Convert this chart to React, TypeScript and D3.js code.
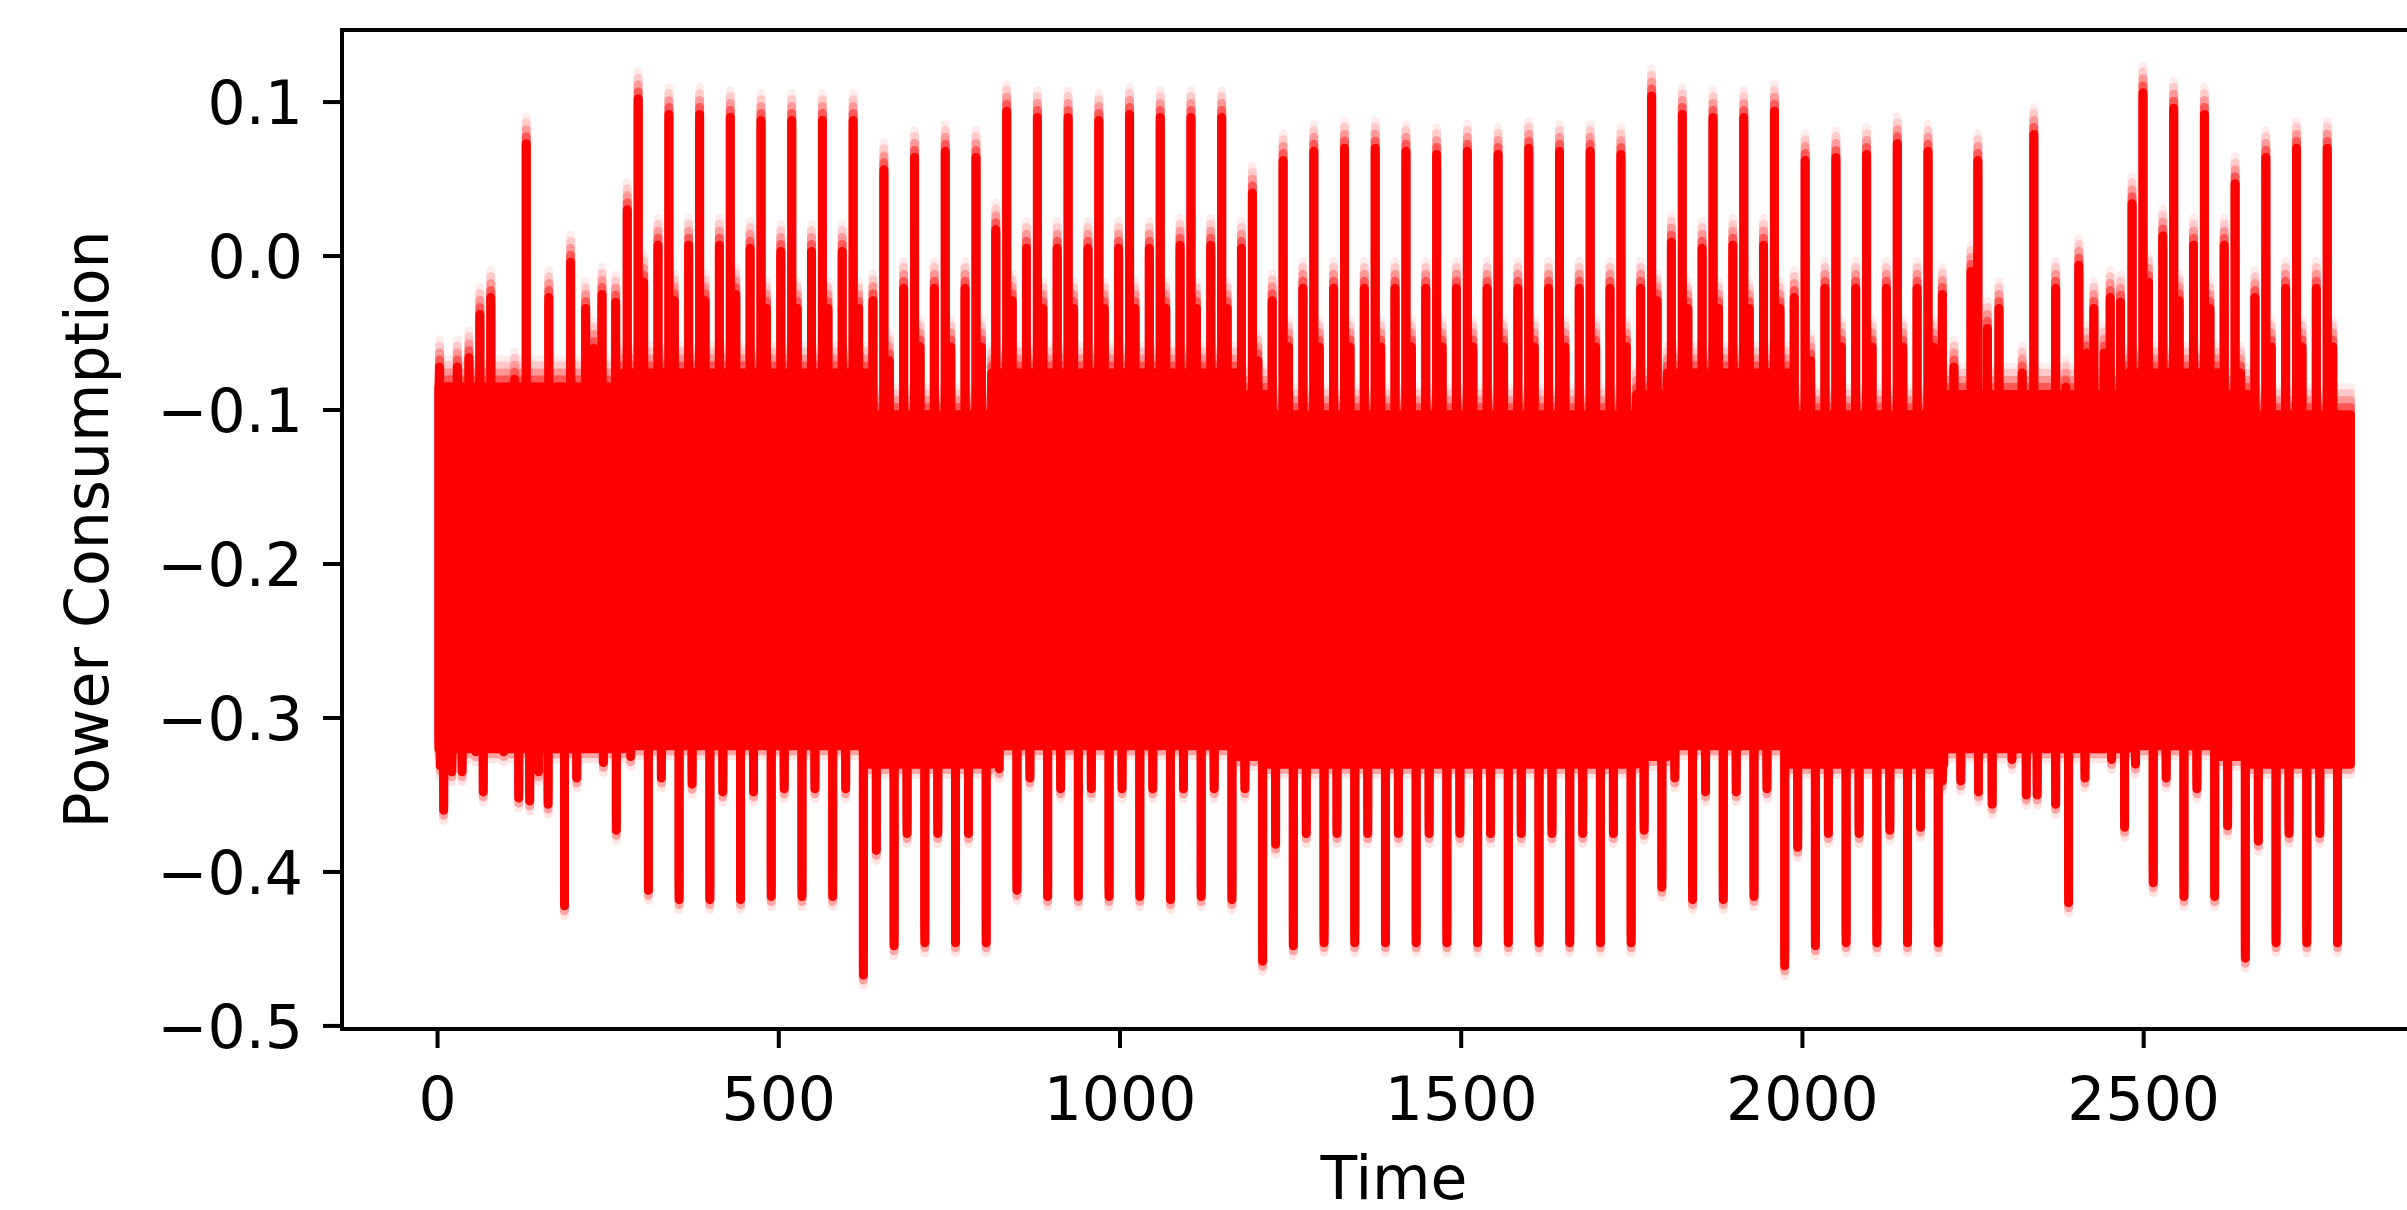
import React from "react";
import * as d3 from "d3";

// figure size and axes box (matplotlib-like layout)
const WIDTH = 2407;
const HEIGHT = 1210;
const plot = { left: 342, top: 30, right: 2446, bottom: 1029 };

const xLimits = [-140, 2943];
const yLimits = [-0.502, 0.1468];
const xTicks = [0, 500, 1000, 1500, 2000, 2500];
const yTicks = [-0.5, -0.4, -0.3, -0.2, -0.1, 0.0, 0.1];

// daily cycle: tall peak of day k sits at firstPeakTime + k * dayLength
const dayLength = 45;
const firstPeakTime = 24;
const firstDay = 6;
const timeEnd = 2803;
const spikeBase = -0.2;
// where the other daily features sit relative to the tall peak (time steps)
const secondOffset = -16;
const secondLowOffset = -11;
const bumpOffset = 8;
const lowOffset = 15;

// days 6..61 (null = irregular day, see extra spikes)
const dayHigh = [
  0.102, 0.092, 0.092, 0.09, 0.088, 0.088, 0.088, 0.088,
  0.056, 0.064, 0.068, 0.064,
  0.094, 0.09, 0.09, 0.088, 0.092, 0.09, 0.09, 0.09,
  0.041, 0.062, 0.068, 0.07, 0.07, 0.068, 0.066, 0.068, 0.066, 0.07, 0.068, 0.068, 0.066,
  0.104, 0.092, 0.09, 0.09, 0.094,
  0.062, 0.064, 0.066, 0.073, 0.068,
  null, null, null, null, null, null,
  0.106, 0.096, 0.092, 0.047, 0.064, 0.07, 0.07,
];
const daySecond = [
  0.03, 0.007, 0.007, 0.007, 0.005, 0.003, 0.003, 0.003,
  -0.029, -0.021, -0.021, -0.021,
  0.017, 0.005, 0.005, 0.005, 0.005, 0.005, 0.007, 0.007,
  0.005, -0.029, -0.021, -0.021, -0.021, -0.021, -0.021, -0.021, -0.021, -0.021, -0.021, -0.021, -0.021,
  -0.021, 0.009, 0.005, 0.007, 0.007,
  -0.027, -0.021, -0.021, -0.021, -0.021,
  null, null, null, null, null, null,
  0.034, 0.013, 0.007, 0.007, -0.027, -0.021, -0.021,
];
const dayBump = [
  -0.017, -0.029, -0.029, -0.025, -0.034, -0.034, -0.034, -0.034,
  -0.068, -0.059, -0.059, -0.059,
  -0.029, -0.034, -0.034, -0.034, -0.034, -0.034, -0.034, -0.034,
  -0.068, -0.059, -0.059, -0.059, -0.059, -0.059, -0.059, -0.059, -0.059, -0.059, -0.059, -0.059, -0.059,
  -0.029, -0.034, -0.034, -0.034, -0.034,
  -0.068, -0.059, -0.059, -0.059, -0.059,
  null, null, null, null, null, null,
  -0.017, -0.029, -0.034, -0.076, -0.059, -0.059, -0.059,
];
const dayLow = [
  -0.412, -0.418, -0.418, -0.418, -0.416, -0.416, -0.416, -0.467,
  -0.448, -0.446, -0.446, -0.446,
  -0.412, -0.416, -0.416, -0.416, -0.416, -0.418, -0.416, -0.418,
  -0.458, -0.448, -0.446, -0.446, -0.446, -0.446, -0.446, -0.446, -0.446, -0.446, -0.446, -0.446, -0.446,
  -0.41, -0.418, -0.418, -0.416, -0.461,
  -0.448, -0.446, -0.446, -0.446, -0.446,
  null, null, null, null, null, null,
  -0.407, -0.416, -0.416, -0.456, -0.446, -0.446, -0.446,
];
const dayLow2 = [
  -0.325, -0.339, -0.343, -0.348, -0.348, -0.346, -0.346, -0.346,
  -0.386, -0.375, -0.375, -0.375,
  -0.333, -0.339, -0.346, -0.346, -0.346, -0.346, -0.346, -0.346,
  -0.346, -0.382, -0.375, -0.375, -0.375, -0.375, -0.375, -0.375, -0.375, -0.375, -0.375, -0.375, -0.375,
  -0.373, -0.339, -0.348, -0.348, -0.346,
  -0.384, -0.375, -0.375, -0.373, -0.371,
  null, null, null, null, null, null,
  -0.33, -0.339, -0.346, -0.37, -0.38, -0.375, -0.375,
];

// dense band of the signal, one value per day (days 0..61)
const bandTop = [
  -0.085, -0.085, -0.085, -0.085, -0.085, -0.085,
  -0.076, -0.076, -0.076, -0.076, -0.076, -0.076, -0.076, -0.076,
  -0.103, -0.103, -0.103, -0.103,
  -0.076, -0.076, -0.076, -0.076, -0.076, -0.076, -0.076, -0.076,
  -0.09,
  -0.103, -0.103, -0.103, -0.103, -0.103, -0.103, -0.103, -0.103, -0.103, -0.103, -0.103, -0.103,
  -0.09,
  -0.076, -0.076, -0.076, -0.076,
  -0.103, -0.103, -0.103, -0.103, -0.103,
  -0.09, -0.09, -0.09, -0.09, -0.09, -0.09,
  -0.076, -0.076, -0.076,
  -0.09,
  -0.103, -0.103, -0.103,
];
const bandBottom = [
  -0.32, -0.32, -0.32, -0.32, -0.32, -0.32,
  -0.318, -0.318, -0.318, -0.318, -0.318, -0.318, -0.318, -0.318,
  -0.33, -0.33, -0.33, -0.33,
  -0.318, -0.318, -0.318, -0.318, -0.318, -0.318, -0.318, -0.318,
  -0.325,
  -0.33, -0.33, -0.33, -0.33, -0.33, -0.33, -0.33, -0.33, -0.33, -0.33, -0.33, -0.33,
  -0.325,
  -0.318, -0.318, -0.318, -0.318,
  -0.33, -0.33, -0.33, -0.33, -0.33,
  -0.32, -0.32, -0.32, -0.32, -0.32, -0.32,
  -0.318, -0.318, -0.318,
  -0.325,
  -0.33, -0.33, -0.33,
];

// irregular stretches (start of the record and days 49..54)
const extraHighT = [
  3, 17, 29, 46, 62, 78, 95, 113, 130, 146, 163, 178, 195, 217, 229, 241, 261,
  2205, 2222, 2247, 2257, 2271, 2288, 2300, 2322, 2339, 2356, 2371, 2386, 2405, 2417, 2427, 2442, 2451, 2466,
];
const extraHighV = [
  -0.072, -0.085, -0.072, -0.066, -0.038, -0.027, -0.091, -0.08, 0.073, -0.11, -0.027, -0.085, -0.004, -0.034, -0.06, -0.025, -0.03,
  -0.025, -0.072, -0.01, 0.062, -0.047, -0.034, -0.093, -0.076, 0.079, -0.1, -0.021, -0.085, -0.006, -0.063, -0.034, -0.063, -0.027, -0.03,
];
const extraLowT = [
  4, 9, 21, 36, 56, 67, 80, 97, 119, 135, 148, 162, 186, 204, 224, 243, 262,
  2205, 2232, 2258, 2278, 2290, 2307, 2328, 2344, 2371, 2390, 2414, 2435, 2453, 2472,
];
const extraLowV = [
  -0.331, -0.36, -0.335, -0.335, -0.322, -0.348, -0.31, -0.322, -0.352, -0.354, -0.335, -0.356, -0.422, -0.339, -0.318, -0.329, -0.373,
  -0.341, -0.341, -0.348, -0.356, -0.314, -0.327, -0.35, -0.35, -0.356, -0.42, -0.339, -0.314, -0.327, -0.371,
];

// overlapping translucent copies give the faded tips
const layers = [
  { dy: -27, a: 0.07 },
  { dy: -21, a: 0.14 },
  { dy: -14, a: 0.25 },
  { dy: -7, a: 0.42 },
  { dy: 10, a: 0.1 },
  { dy: 5, a: 0.28 },
  { dy: 0, a: 1 },
];

const RED = "#ff0000";
const FONT = "DejaVu Sans";

const App = () => {
  const x = d3.scaleLinear().domain(xLimits).range([plot.left, plot.right]);
  const y = d3.scaleLinear().domain(yLimits).range([plot.bottom, plot.top]);

  // band envelope
  const bandPts = bandTop.map((top, k) => ({
    t: Math.max(0, firstPeakTime + k * dayLength - 22),
    top,
    bottom: bandBottom[k],
  }));
  bandPts.push({ t: timeEnd, top: bandTop[bandTop.length - 1], bottom: bandBottom[bandBottom.length - 1] });
  const area = d3
    .area<{ t: number; top: number; bottom: number }>()
    .x((d) => x(d.t))
    .y0((d) => y(d.bottom))
    .y1((d) => y(d.top))
    .curve(d3.curveStepAfter);
  const bandPath = area(bandPts) || "";

  // spikes
  const spikes: [number, number][] = [];
  dayHigh.forEach((h, i) => {
    if (h == null) return;
    const tp = firstPeakTime + (firstDay + i) * dayLength;
    spikes.push([tp + secondOffset, daySecond[i] as number]);
    spikes.push([tp + secondLowOffset, dayLow2[i] as number]);
    spikes.push([tp, h]);
    spikes.push([tp + bumpOffset, dayBump[i] as number]);
    spikes.push([tp + lowOffset, dayLow[i] as number]);
  });
  extraHighT.forEach((t, i) => spikes.push([t, extraHighV[i]]));
  extraLowT.forEach((t, i) => spikes.push([t, extraLowV[i]]));

  const line = d3
    .line<[number, number]>()
    .x((d) => x(d[0]))
    .y((d) => y(d[1]));
  const spikePath = spikes.map(([t, v]) => line([[t, spikeBase], [t, v]])).join("");

  const yFmt = d3.format(".1f");

  return (
    <svg
      width={WIDTH}
      height={HEIGHT}
      style={{ position: "absolute", left: 0, top: 0, background: "#fff" }}
      fontFamily={FONT}
    >
      <rect x={0} y={0} width={WIDTH} height={HEIGHT} fill="#fff" />
      {layers.map((l, i) => (
        <g key={i} transform={`translate(0,${l.dy})`} opacity={l.a}>
          <path d={bandPath} fill={RED} stroke={RED} strokeWidth={9} strokeLinejoin="round" />
          <path d={spikePath} fill="none" stroke={RED} strokeWidth={9} strokeLinecap="round" />
        </g>
      ))}

      {/* spines */}
      <rect
        x={plot.left}
        y={plot.top}
        width={plot.right - plot.left}
        height={plot.bottom - plot.top}
        fill="none"
        stroke="#000"
        strokeWidth={4}
      />

      {/* x axis */}
      {xTicks.map((t) => (
        <g key={t}>
          <line x1={x(t)} x2={x(t)} y1={plot.bottom} y2={plot.bottom + 19} stroke="#000" strokeWidth={4} />
          <text x={x(t)} y={1120} fontSize={60} textAnchor="middle" fill="#000">
            {t}
          </text>
        </g>
      ))}
      <text x={(plot.left + plot.right) / 2} y={1199} fontSize={60} textAnchor="middle" fill="#000">
        Time
      </text>

      {/* y axis */}
      {yTicks.map((v) => (
        <g key={v}>
          <line x1={plot.left - 19} x2={plot.left} y1={y(v)} y2={y(v)} stroke="#000" strokeWidth={4} />
          <text x={303} y={y(v) + 22} fontSize={60} textAnchor="end" fill="#000">
            {yFmt(v)}
          </text>
        </g>
      ))}
      <text
        transform={`translate(108,${(plot.top + plot.bottom) / 2}) rotate(-90)`}
        fontSize={60}
        textAnchor="middle"
        fill="#000"
      >
        Power Consumption
      </text>
    </svg>
  );
};

export default App;
